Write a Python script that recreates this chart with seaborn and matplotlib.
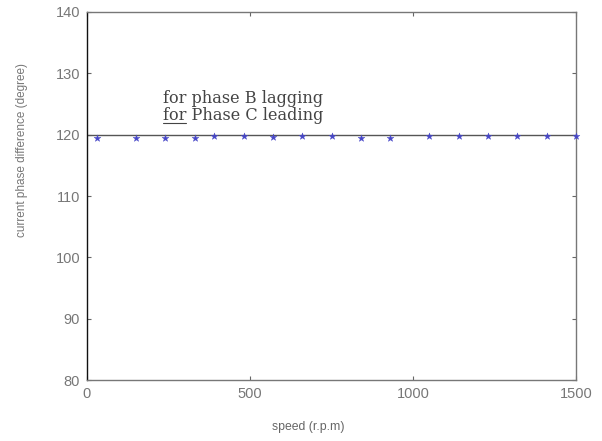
import numpy as np
import pandas as pd
import matplotlib
matplotlib.use('Agg')
import matplotlib.pyplot as plt
from matplotlib.lines import Line2D
import seaborn as sns

# measured points (speed in r.p.m, phase difference in degree)
speed = [30, 150, 240, 330, 390, 480, 570, 660, 750, 840, 930,
         1050, 1140, 1230, 1320, 1410, 1500]
phase_diff = [119.5, 119.5, 119.5, 119.5, 119.7, 119.8, 119.6, 119.8, 119.8,
              119.5, 119.5, 119.7, 119.7, 119.7, 119.7, 119.7, 119.8]

# ideal 120 degree reference line
ref_speed = [0, 1500]
ref_phase = [120, 120]

x_ticks = [0, 500, 1000, 1500]
y_ticks = [80, 90, 100, 110, 120, 130, 140]

sns.set_style('white')
plt.rcParams['font.family'] = ['Liberation Sans', 'DejaVu Sans']

fig = plt.figure(figsize=(6.02, 4.41), dpi=100)
ax = fig.add_axes([0.1445, 0.138, 0.8125, 0.835])

ref = pd.DataFrame({'speed': ref_speed, 'phase': ref_phase})
meas = pd.DataFrame({'speed': speed, 'phase': phase_diff})

sns.lineplot(data=ref, x='speed', y='phase', ax=ax, color='#555555', linewidth=1.0)
sns.scatterplot(data=meas, x='speed', y='phase', ax=ax, marker='*', s=26,
                color='#4646c8', edgecolor='#4646c8', linewidth=0.3, zorder=3,
                clip_on=False)

ax.set_xlim(0, 1500)
ax.set_ylim(80, 140)
ax.set_xticks(x_ticks)
ax.set_yticks(y_ticks)
ax.tick_params(direction='in', length=3, colors='#666666', labelcolor='#777777',
               labelsize=10.5, top=True, right=True, bottom=True, left=True, pad=5)
for name, s in ax.spines.items():
    s.set_color('#111111' if name == 'left' else '#777777')
    s.set_linewidth(1.0)

ax.set_xlabel('speed (r.p.m)', color='#666666', fontsize=8.8)
ax.set_ylabel('current phase difference (degree)', color='#777777', fontsize=8.5)
ax.xaxis.set_label_coords(0.452, -0.111)
ax.yaxis.set_label_coords(-0.12, 0.625)

serif = dict(family='DejaVu Serif', fontsize=11.6, color='#444444', va='baseline', ha='left')
ax.text(233, 125.2, 'for phase B lagging', **serif)
ax.text(233, 122.4, 'for Phase C leading', **serif)

# underline the word "for" on the second line
fig.canvas.draw()
probe = ax.text(233, 122.4, 'for', **serif)
bb = probe.get_window_extent(fig.canvas.get_renderer())
probe.remove()
x0, y0 = fig.transFigure.inverted().transform((bb.x0, bb.y0))
x1, _ = fig.transFigure.inverted().transform((bb.x1, bb.y0))
fig.add_artist(Line2D([x0, x1], [y0 + 0.002, y0 + 0.002], color='#444444', linewidth=0.8))

fig.savefig('out.png', dpi=100)
